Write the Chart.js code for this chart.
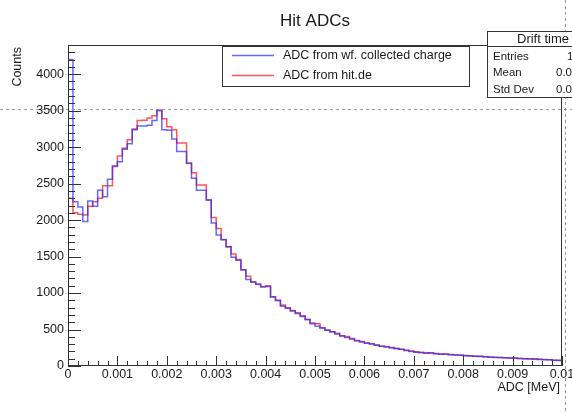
<!DOCTYPE html>
<html>
<head>
<meta charset="utf-8">
<script src="https://cdn.jsdelivr.net/npm/chart.js@4.4.0/dist/chart.umd.min.js"></script>
<style>
    html, body { margin: 0; background: #fff; }
    canvas { display: block; }
</style>
</head>
<body>
<canvas id="chart-hit-adcs" width="572" height="414"></canvas>
<script>
const BIN_WIDTH = 0.0001;

const X_TICKS = [0, 0.001, 0.002, 0.003, 0.004, 0.005, 0.006, 0.007, 0.008, 0.009, 0.01];
const X_TICK_LABELS = ["0", "0.001", "0.002", "0.003", "0.004", "0.005", "0.006", "0.007", "0.008", "0.009", "0.01"];
const Y_TICKS = [0, 500, 1000, 1500, 2000, 2500, 3000, 3500, 4000];
const Y_TICK_LABELS = ["0", "500", "1000", "1500", "2000", "2500", "3000", "3500", "4000"];

const SERIES_LABELS = ["ADC from wf. collected charge", "ADC from hit.de"];

// counts per 0.0001 MeV bin, 100 bins from 0 to 0.01
const ADC_WF = [
    4200, 2250, 2180, 1980, 2260, 2190, 2410, 2320, 2560, 2740,
    2800, 2970, 3045, 3240, 3290, 3290, 3300, 3365, 3500, 3240,
    3230, 3110, 2940, 2940, 2780, 2575, 2410, 2410, 2275, 1960,
    1795, 1730, 1635, 1490, 1450, 1320, 1185, 1150, 1120, 1085,
    1090, 946, 895, 820, 790, 755, 720, 680, 635, 580,
    545, 520, 490, 468, 440, 412, 392, 370, 345, 330,
    312, 300, 285, 272, 262, 250, 238, 228, 212, 200,
    190, 186, 176, 182, 168, 162, 165, 154, 150, 146,
    145, 138, 133, 135, 126, 121, 118, 115, 112, 108,
    108, 104, 100, 96, 98, 90, 86, 85, 80, 76,
];
const ADC_HIT = [
    2300, 2100, 2080, 2070, 2190, 2250, 2300, 2470, 2470, 2735,
    2880, 2985, 3100, 3250, 3365, 3370, 3400, 3430, 3510, 3390,
    3280, 3240, 3055, 3055, 2780, 2650, 2480, 2480, 2275, 2035,
    1885, 1735, 1635, 1535, 1460, 1320, 1230, 1150, 1120, 1085,
    1100, 950, 905, 835, 800, 760, 730, 690, 640, 590,
    580, 525, 495, 470, 450, 415, 405, 378, 350, 335,
    315, 305, 288, 270, 268, 252, 245, 230, 215, 205,
    195, 185, 180, 178, 172, 165, 160, 158, 152, 150,
    142, 140, 135, 130, 128, 124, 120, 116, 114, 110,
    106, 102, 100, 98, 94, 92, 88, 84, 80, 78,
];

const STATS_TITLE = "Drift time";
const STATS_LABELS = ["Entries", "Mean", "Std Dev"];
const STATS_VALUES = ["1", "0.00", "0.0"];

const COLORS = {
    wf: "rgba(40, 40, 255, 0.7)",
    hit: "rgba(255, 20, 20, 0.72)",
    axis: "#333",
    text: "#1a1a1a",
};
const FONT = '"Liberation Sans", Arial, sans-serif';

// histogram outline: each bin is a point at its low edge, the step is drawn before the next edge
function toSteps(counts) {
    const pts = [{ x: 0, y: 0 }];
    counts.forEach((c, i) => pts.push({ x: i * BIN_WIDTH, y: c }));
    pts.push({ x: counts.length * BIN_WIDTH, y: counts[counts.length - 1] });
    return pts;
}

const rootFrame = {
    id: "rootFrame",
    afterDraw(chart) {
        const { ctx, chartArea: a } = chart;
        const xs = chart.scales.x;
        const ys = chart.scales.y;
        ctx.save();

        // crosshair
        ctx.strokeStyle = "#999";
        ctx.lineWidth = 1;
        ctx.setLineDash([3, 3]);
        ctx.beginPath();
        ctx.moveTo(0, 109.5);
        ctx.lineTo(572, 109.5);
        ctx.moveTo(565.5, 0);
        ctx.lineTo(565.5, 414);
        ctx.stroke();
        ctx.setLineDash([]);

        // frame
        ctx.strokeStyle = COLORS.axis;
        ctx.strokeRect(a.left + 0.5, a.top + 0.5, a.right - a.left - 1, a.bottom - a.top - 1);

        // ticks, drawn inside the frame
        ctx.beginPath();
        for (let v = 0; v <= ys.max; v += 100) {
            const y = Math.round(ys.getPixelForValue(v)) + 0.5;
            const len = v % 500 === 0 ? 13 : 7;
            ctx.moveTo(a.left, y);
            ctx.lineTo(a.left + len, y);
        }
        for (let k = 0; k <= 50; k++) {
            const x = Math.round(xs.getPixelForValue(k * 0.0002)) + 0.5;
            const len = k % 5 === 0 ? 10 : 5;
            ctx.moveTo(x, a.bottom);
            ctx.lineTo(x, a.bottom - len);
        }
        ctx.stroke();

        ctx.fillStyle = COLORS.text;
        ctx.font = `12.5px ${FONT}`;
        ctx.textAlign = "right";
        ctx.textBaseline = "middle";
        Y_TICKS.forEach((v, i) => {
            ctx.fillText(Y_TICK_LABELS[i], a.left - 4, ys.getPixelForValue(v));
        });
        ctx.textAlign = "center";
        ctx.textBaseline = "top";
        X_TICKS.forEach((v, i) => {
            ctx.fillText(X_TICK_LABELS[i], xs.getPixelForValue(v), a.bottom + 2);
        });

        // axis titles
        ctx.textAlign = "right";
        ctx.textBaseline = "middle";
        ctx.fillText("ADC [MeV]", 560, 388);
        ctx.save();
        ctx.translate(18, 47);
        ctx.rotate(-Math.PI / 2);
        ctx.fillText("Counts", 0, 0);
        ctx.restore();

        // title
        ctx.font = `17px ${FONT}`;
        ctx.textAlign = "center";
        ctx.textBaseline = "alphabetic";
        ctx.fillText("Hit ADCs", 315, 26);

        // legend
        ctx.fillStyle = "#fff";
        ctx.fillRect(222, 46, 247, 40);
        ctx.strokeStyle = COLORS.axis;
        ctx.strokeRect(222.5, 46.5, 247, 40);
        [COLORS.wf, COLORS.hit].forEach((col, i) => {
            const y = 55.5 + i * 20;
            ctx.strokeStyle = col;
            ctx.lineWidth = 1.5;
            ctx.beginPath();
            ctx.moveTo(232, y);
            ctx.lineTo(274, y);
            ctx.stroke();
            ctx.fillStyle = COLORS.text;
            ctx.font = `12.5px ${FONT}`;
            ctx.textAlign = "left";
            ctx.textBaseline = "middle";
            ctx.fillText(SERIES_LABELS[i], 283, y);
        });

        // stats box
        ctx.lineWidth = 1;
        ctx.fillStyle = "#fff";
        ctx.fillRect(487, 31, 100, 66);
        ctx.strokeStyle = COLORS.axis;
        ctx.strokeRect(487.5, 31.5, 100, 66);
        ctx.beginPath();
        ctx.moveTo(487, 46.5);
        ctx.lineTo(572, 46.5);
        ctx.stroke();
        ctx.fillStyle = COLORS.text;
        ctx.font = `13px ${FONT}`;
        ctx.textAlign = "left";
        ctx.fillText(STATS_TITLE, 517, 39);
        ctx.font = `11.5px ${FONT}`;
        STATS_LABELS.forEach((lab, i) => {
            const y = 56.5 + i * 16.5;
            ctx.fillText(lab, 493, y);
            ctx.fillText(STATS_VALUES[i], i === 0 ? 567 : 556, y);
        });

        ctx.restore();
    },
};

const hitAdcChartElem = document.getElementById("chart-hit-adcs");
const hitAdcChart = new Chart(hitAdcChartElem, {
    type: "line",
    data: {
        datasets: [
            {
                label: SERIES_LABELS[0],
                data: toSteps(ADC_WF),
                borderColor: COLORS.wf,
                borderWidth: 1.5,
                pointRadius: 0,
                stepped: "before",
                fill: false,
            },
            {
                label: SERIES_LABELS[1],
                data: toSteps(ADC_HIT),
                borderColor: COLORS.hit,
                borderWidth: 1.5,
                pointRadius: 0,
                stepped: "before",
                fill: false,
            },
        ],
    },
    options: {
        responsive: false,
        animation: false,
        devicePixelRatio: 1,
        layout: { padding: { left: 0, right: 10, top: 45, bottom: 0 } },
        plugins: {
            legend: { display: false },
            tooltip: { enabled: false },
            title: { display: false },
        },
        scales: {
            x: {
                type: "linear",
                min: 0,
                max: 0.01,
                grid: { display: false },
                border: { display: false },
                ticks: { display: false },
                afterFit(scale) {
                    scale.height = 48;
                },
            },
            y: {
                type: "linear",
                min: 0,
                max: 4400,
                grid: { display: false },
                border: { display: false },
                ticks: { display: false },
                afterFit(scale) {
                    scale.width = 68;
                },
            },
        },
    },
    plugins: [rootFrame],
});
</script>
</body>
</html>
